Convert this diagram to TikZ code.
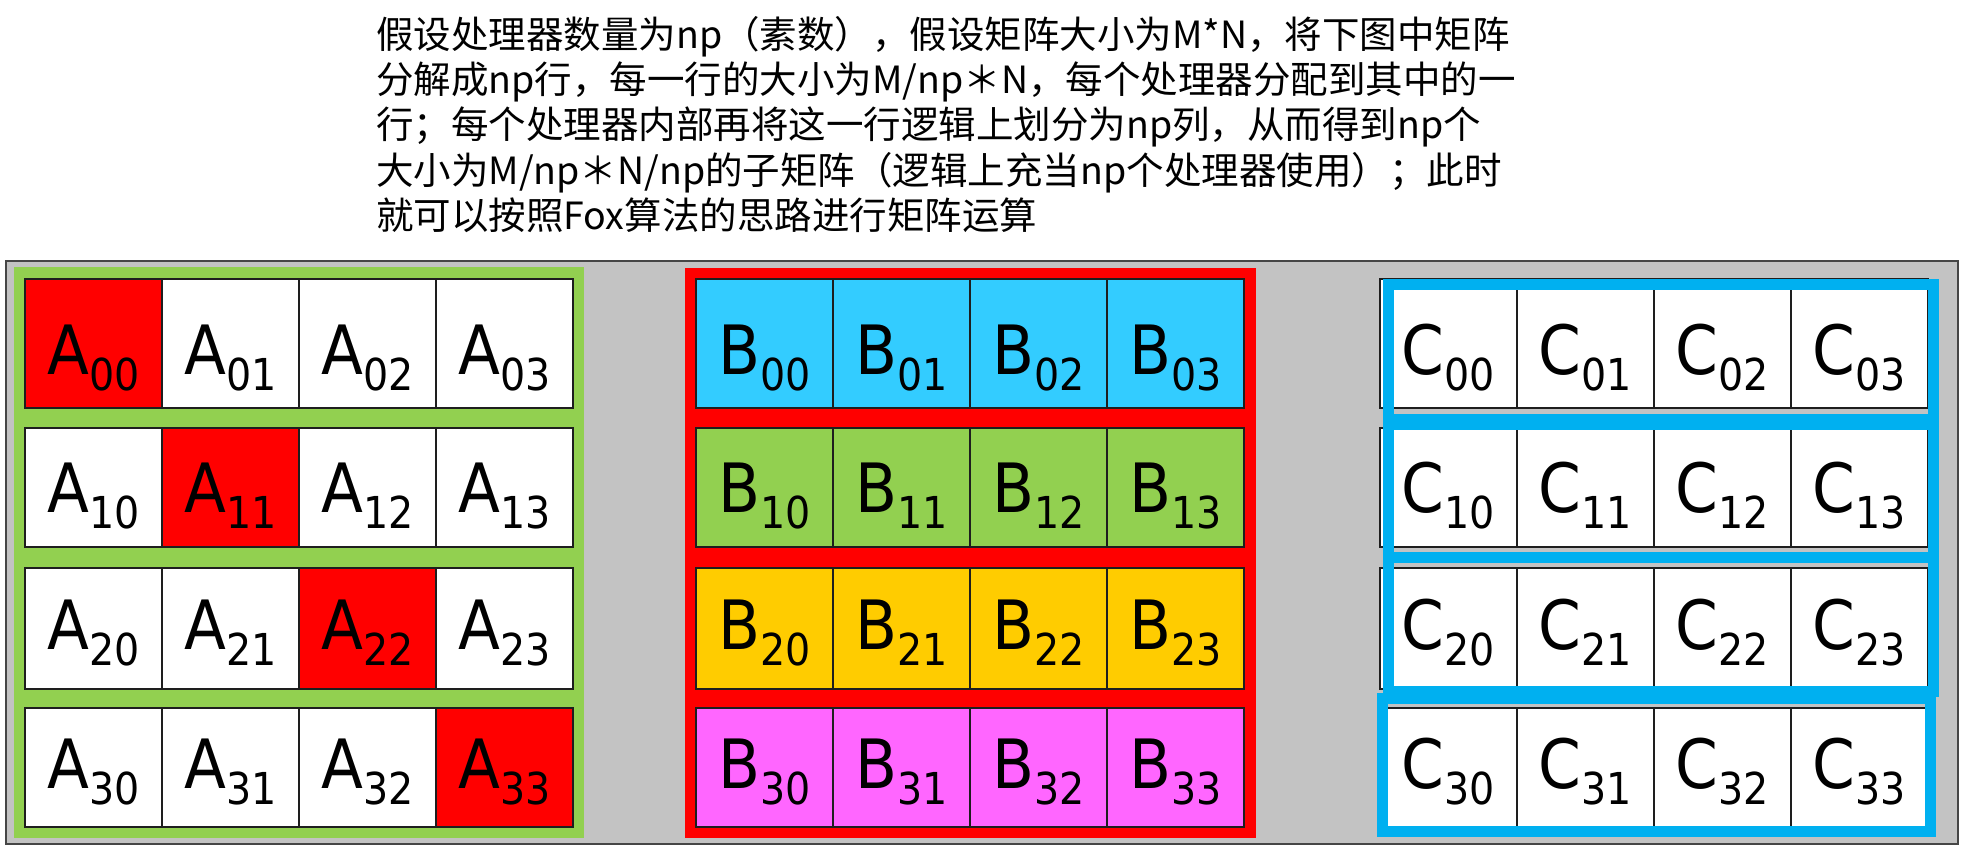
\documentclass[tikz,border=0pt]{standalone}
\usepackage{fontspec}
\newfontfamily\cjk{Noto Sans CJK SC}
\newfontfamily\cellfont[FakeStretch=0.9]{DejaVu Sans}
\definecolor{ink}{RGB}{30,30,30}
\definecolor{panelgray}{RGB}{195,195,195}
\definecolor{panelline}{RGB}{70,70,70}
\definecolor{hotred}{RGB}{255,0,0}
\definecolor{agreen}{RGB}{146,208,80}
\definecolor{bcyan}{RGB}{51,204,255}
\definecolor{byellow}{RGB}{255,204,0}
\definecolor{bpink}{RGB}{255,102,255}
\definecolor{cframe}{RGB}{0,176,240}
\newcommand{\mtx}[2]{#1\raisebox{-16pt}{\fontsize{44}{44}\selectfont #2}}
\tikzset{
  every picture/.style={x=1pt, y=-1pt},
  cell/.style={draw=ink, line width=1.5pt, minimum width=137pt, inner sep=0pt, text depth=0pt, font=\cellfont\fontsize{68}{70}\selectfont},
  panel/.style={fill=panelgray, draw=panelline, line width=2pt},
  rowframe/.style={draw=cframe, line width=11pt},
  note/.style={font=\cjk\fontsize{37.5}{45.3}\selectfont, align=left, inner sep=0pt, anchor=north west},
}

\begin{document}
\begin{tikzpicture}
  \useasboundingbox (0,0) rectangle (1966,853);
  \node[note] (intro) at (376,16) {假设处理器数量为np（素数），假设矩阵大小为M*N，将下图中矩阵\\分解成np行，每一行的大小为M/np＊N，每个处理器分配到其中的一\\行；每个处理器内部再将这一行逻辑上划分为np列，从而得到np个\\大小为M/np＊N/np的子矩阵（逻辑上充当np个处理器使用）；此时\\就可以按照Fox算法的思路进行矩阵运算};
  \draw[panel] (6,261) rectangle (1958,844);
  \fill[agreen] (14,267) rectangle (584,838);
  \fill[hotred] (685,268) rectangle (1256,838);
  % one row of A, B and C at a time
  \foreach \rw/\ya/\yb/\th/\bcol in {0/279/408/61/bcyan, 1/428/547/49/agreen, 2/568/689/41/byellow, 3/708/827/41/bpink}
    \foreach \cl in {0,...,3} {
      \pgfmathsetmacro\yc{(\ya+\yb)/2}
      \pgfmathsetmacro\hh{\yb-\ya}
      \ifnum\rw=\cl\def\acol{hotred}\else\def\acol{white}\fi
      \node[cell, fill=\acol, minimum height=\hh pt, text height=\th pt] (a\rw\cl) at (93.5+137*\cl,\yc) {\mtx{A}{\rw\cl}};
      \node[cell, fill=\bcol, minimum height=\hh pt, text height=\th pt] (b\rw\cl) at (764.5+137*\cl,\yc) {\mtx{B}{\rw\cl}};
      \node[cell, fill=white, minimum height=\hh pt, text height=\th pt] (c\rw\cl) at (1448.5+137*\cl,\yc) {\mtx{C}{\rw\cl}};
    }
  \foreach \xa/\ya/\xb/\yb in {1388/285/1933/419, 1388/424/1933/557, 1388/557/1933/691, 1382/698/1930/831}
    \draw[rowframe] (\xa,\ya) rectangle (\xb,\yb);
\end{tikzpicture}
\end{document}
